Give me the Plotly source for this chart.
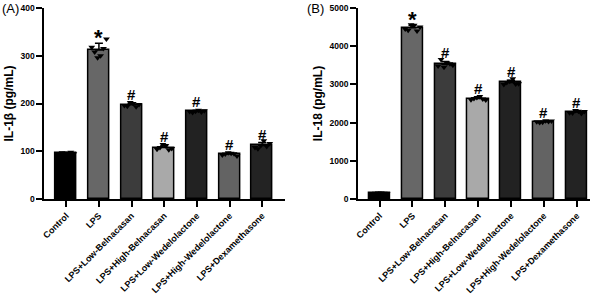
import numpy as np
import plotly.graph_objects as go

categories = ["Control", "LPS", "LPS+Low-Belnacasan", "LPS+High-Belnacasan",
              "LPS+Low-Wedelolactone", "LPS+High-Wedelolactone", "LPS+Dexamethasone"]

il1b_reps = [
    [93, 96, 97, 95, 94, 98],
    [318, 300, 308, 335, 296, 315],
    [196, 200, 194, 198, 202, 193],
    [104, 112, 108, 106, 114, 103],
    [183, 186, 181, 185, 184, 182],
    [92, 96, 94, 90, 97, 95],
    [108, 122, 105, 116, 112, 110],
]
il18_reps = [
    [140, 160, 150, 145, 155, 150],
    [4450, 4550, 4420, 4500, 4560, 4400],
    [3480, 3560, 3650, 3500, 3450, 3540],
    [2600, 2680, 2630, 2590, 2660, 2620],
    [3000, 3150, 3050, 3020, 3080, 3010],
    [2020, 2050, 2000, 2040, 2010, 2030],
    [2260, 2300, 2250, 2290, 2320, 2240],
]
sig_marks = ["", "*", "#", "#", "#", "#", "#"]

bar_colors = ["#000000", "#676767", "#3c3c3c", "#a9a9a9", "#222222", "#636363", "#232323"]
offsets = [-0.22, 0.05, -0.13, 0.23, -0.04, 0.14]

FONT = "Liberation Sans, Arial, sans-serif"

fig = go.Figure()

def add_panel(reps, xa, ya):
    x = np.arange(len(categories))
    means = [float(np.mean(r)) for r in reps]
    sds = [float(np.std(r, ddof=1)) for r in reps]
    fig.add_trace(go.Bar(
        x=x, y=means, width=0.64, marker=dict(color=bar_colors, line=dict(color="black", width=1.5)),
        error_y=dict(type="data", symmetric=False, array=sds, arrayminus=[0] * len(sds),
                     color="black", thickness=1.5, width=4),
        xaxis=xa, yaxis=ya, showlegend=False))
    px, py = [], []
    for i, r in enumerate(reps):
        for j, v in enumerate(r):
            px.append(i + offsets[j % len(offsets)])
            py.append(v)
    fig.add_trace(go.Scatter(
        x=px, y=py, mode="markers", marker=dict(symbol="triangle-down", size=6, color="black"),
        xaxis=xa, yaxis=ya, showlegend=False, hoverinfo="skip"))
    for i, s in enumerate(sig_marks):
        if s == "*":
            fig.add_annotation(x=i, y=means[i] + sds[i], text="<b>*</b>", showarrow=False,
                               xref=xa, yref=ya, yanchor="bottom", yshift=-9,
                               font=dict(family=FONT, size=22, color="black"))
        elif s:
            fig.add_annotation(x=i, y=means[i] + sds[i], text="<b>%s</b>" % s, showarrow=False,
                               xref=xa, yref=ya, yanchor="bottom", yshift=-2,
                               font=dict(family=FONT, size=15, color="black"))

add_panel(il1b_reps, "x", "y")
add_panel(il18_reps, "x2", "y2")

axis_common = dict(showline=True, linecolor="black", linewidth=2, ticks="outside",
                   tickcolor="black", tickwidth=2, ticklen=6, showgrid=False, zeroline=False,
                   automargin=False, ticklabeloverflow="allow")

xfont = dict(family=FONT, size=9, color="black")
yfont = dict(family=FONT, size=8.5, color="black")
tfont = dict(family=FONT, size=12, color="black")

xticks = dict(tickmode="array", tickvals=list(range(len(categories))),
              ticktext=["<b>%s</b>" % c for c in categories], tickangle=-45, tickfont=xfont)

fig.update_layout(
    width=600, height=295, plot_bgcolor="white", paper_bgcolor="white",
    margin=dict(l=0, r=0, t=8, b=96), bargap=0,
    xaxis=dict(domain=[0.074, 0.475], range=[-0.67, 6.7], anchor="y", **xticks, **axis_common),
    yaxis=dict(domain=[0, 1], range=[0, 400], tickvals=[0, 100, 200, 300, 400],
               ticktext=["<b>%d</b>" % v for v in [0, 100, 200, 300, 400]], anchor="x", tickfont=yfont,
               title=dict(text="<b>IL-1β (pg/mL)</b>", font=tfont, standoff=4),
               **axis_common),
    xaxis2=dict(domain=[0.597, 0.9833], range=[-0.65, 6.4], anchor="y2", **xticks, **axis_common),
    yaxis2=dict(domain=[0, 1], range=[0, 5000], tickvals=[0, 1000, 2000, 3000, 4000, 5000],
                ticktext=["<b>%d</b>" % v for v in [0, 1000, 2000, 3000, 4000, 5000]], anchor="x2",
                tickfont=yfont,
                title=dict(text="<b>IL-18 (pg/mL)</b>", font=tfont, standoff=4),
                **axis_common),
)

fig.add_annotation(x=0, y=1.0, xref="paper", yref="paper", text="(A)", showarrow=False,
                   xanchor="left", yanchor="middle", font=dict(family=FONT, size=13, color="black"))
fig.add_annotation(x=0.508, y=1.0, xref="paper", yref="paper", text="(B)", showarrow=False,
                   xanchor="left", yanchor="middle", font=dict(family=FONT, size=13, color="black"))

fig.write_html("out.html", config={"displayModeBar": False},
               post_script="document.body.style.margin='0';")
